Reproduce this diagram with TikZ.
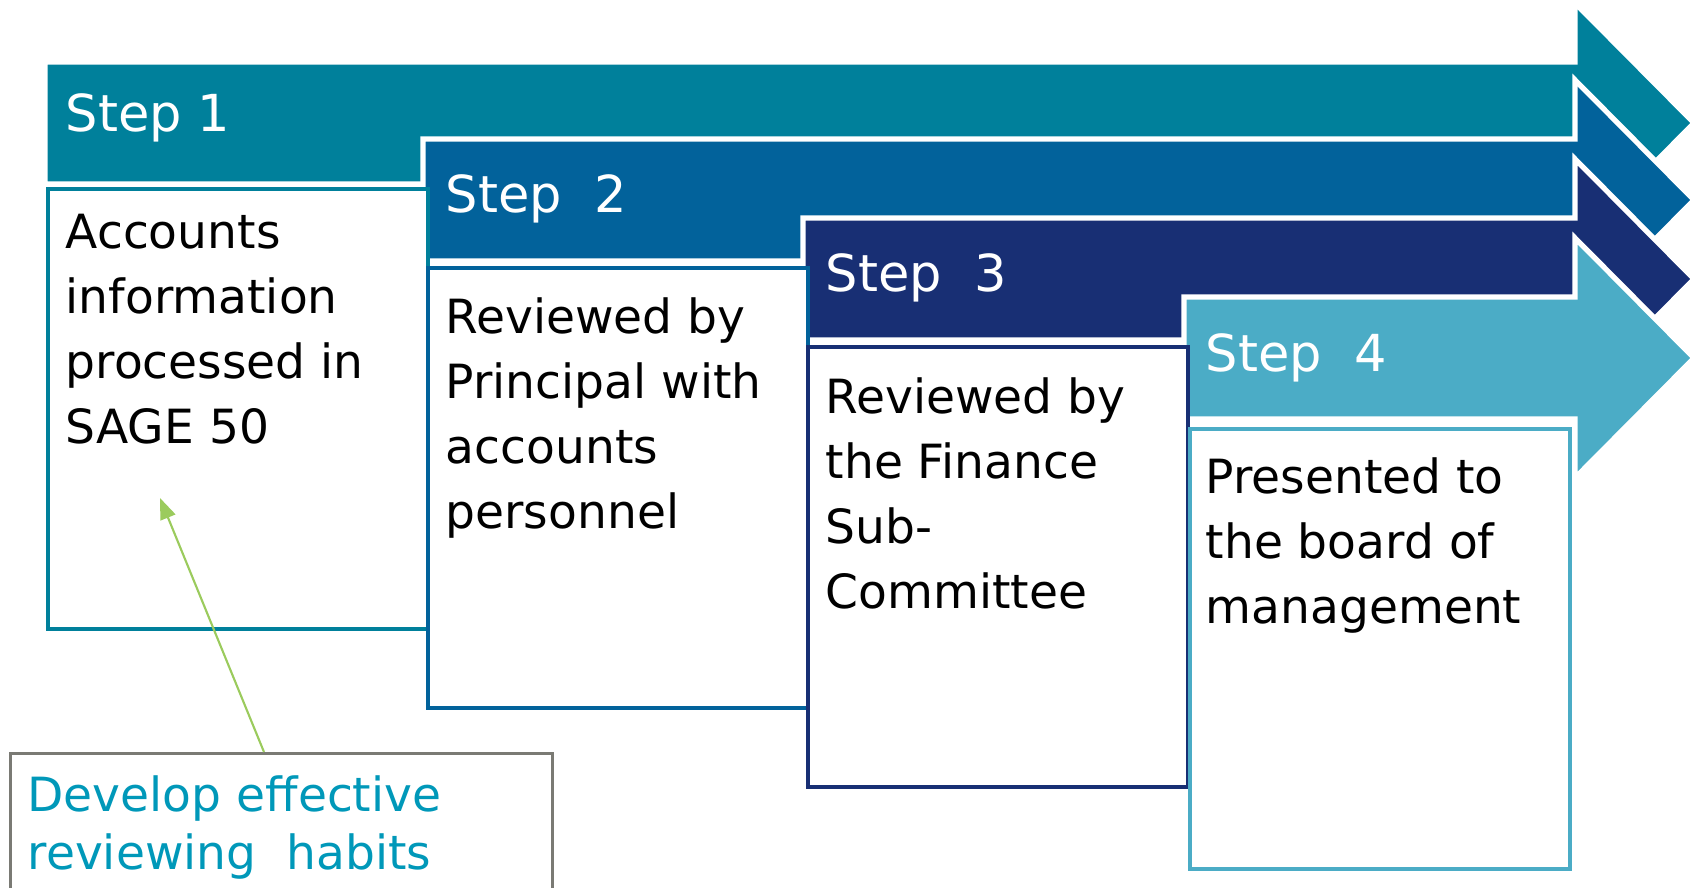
\documentclass[tikz,border=0pt]{standalone}
\usepackage{fontspec}
\setmainfont{DejaVu Sans}
\usepackage{tikz}
\usetikzlibrary{arrows.meta,positioning,calc}
\definecolor{stepone}{HTML}{00809B}
\definecolor{steptwo}{HTML}{02629B}
\definecolor{stepthree}{HTML}{182F74}
\definecolor{stepfour}{HTML}{4BACC6}
\definecolor{notetext}{HTML}{0098B9}
\definecolor{noteline}{HTML}{9BCB5D}
\definecolor{notegray}{HTML}{7A7A74}
\tikzset{
  stepbar/.style={fill=#1, draw=white, line width=1.5pt, line join=miter},
  steptitle/.style={anchor=base west, inner sep=0pt, text=white, font=\fontsize{14.5}{18}\selectfont},
  stepbox/.style={draw=#1, line width=1pt, fill=white, anchor=north west, inner sep=0pt, minimum width=3.8cm, minimum height=4.4cm},
  steptext/.style={anchor=north west, align=left, inner sep=0pt, font=\fontsize{13.4}{18.5}\selectfont, execute at begin node=\strut},
  notebox/.style={draw=notegray, line width=0.8pt, fill=white, anchor=north west, inner sep=0pt, minimum width=5.42cm, minimum height=2cm},
  notetxt/.style={anchor=north west, align=left, inner sep=0pt, text=notetext, font=\fontsize{13.4}{16.5}\selectfont, execute at begin node=\strut},
  pointer/.style={-{Triangle[length=6pt,width=4.5pt]}, draw=noteline, line width=0.6pt}
}

\begin{document}
\begin{tikzpicture}[x=0.01cm, y=-0.01cm]
  \useasboundingbox (0,0) rectangle (1692,887);
  \clip (0,0) rectangle (1692,887);

  % the four step arrows, back to front
  \foreach \L/\T/\col in {48/65/stepone,426/142/steptwo,806/221/stepthree,1187/300/stepfour} {
    \filldraw[stepbar=\col] (\L-3,\T-3) -- (1575,\T-3) -- (1575,\T-62) -- (1694,\T+58)
      -- (1575,\T+178) -- (1575,\T+119) -- (\L-3,\T+119) -- cycle;
  }

  \node[steptitle] (title1) at (65,131) {Step 1};
  \node[steptitle] (title2) at (445,212) {Step\ \ 2};
  \node[steptitle] (title3) at (825,291) {Step\ \ 3};
  \node[steptitle] (title4) at (1205,371) {Step\ \ 4};

  \node[stepbox=stepone] (box1) at (46,187) {};
  \node[stepbox=steptwo] (box2) at (426,266) {};
  \node[stepbox=stepthree] (box3) at (806,345) {};
  \node[stepbox=stepfour] (box4) at (1188,427) {};

  \node[steptext] (text1) at ($(box1.north west)+(19,26)$) {Accounts\\information\\processed in\\SAGE 50};
  \node[steptext] (text2) at ($(box2.north west)+(19,31)$) {Reviewed by\\Principal with\\accounts\\personnel};
  \node[steptext] (text3) at ($(box3.north west)+(19,32)$) {Reviewed by\\the Finance\\Sub-\\Committee};
  \node[steptext] (text4) at ($(box4.north west)+(17,30)$) {Presented to\\the board of\\management};

  % note with pointer
  \node[notebox] (note) at (9,752) {};
  \node[notetxt] (notetext) at ($(note.north west)+(18,23)$) {Develop effective\\reviewing\ \ habits};
  \coordinate (target) at (160,498);
  \draw[pointer] ($(note.north west)+(255,0)$) -- (target);
\end{tikzpicture}
\end{document}
